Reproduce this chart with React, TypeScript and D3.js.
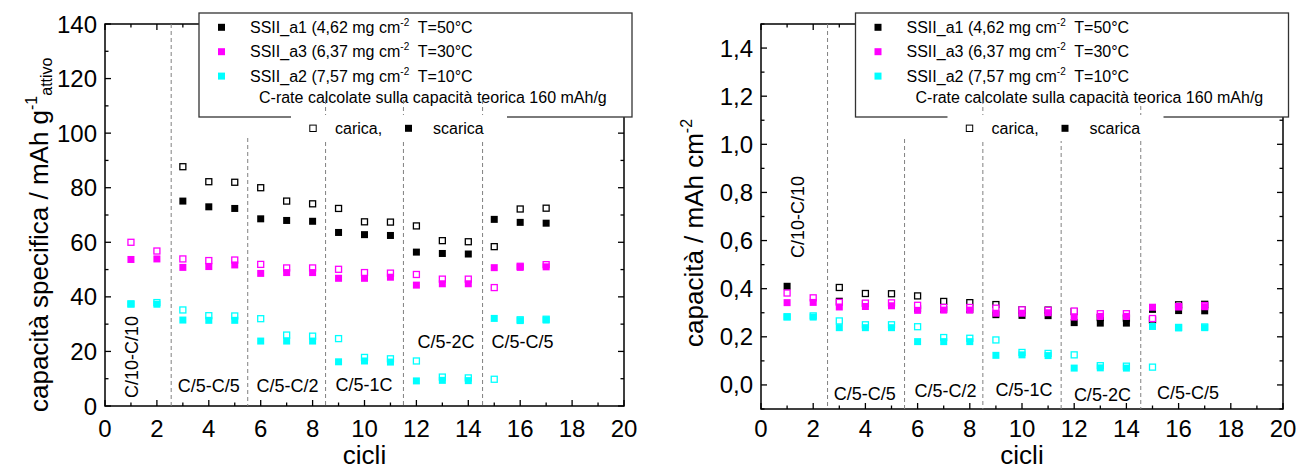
import React from "react";
import * as d3 from "d3";

const cycles = [1, 2, 3, 4, 5, 6, 7, 8, 9, 10, 11, 12, 13, 14, 15, 16, 17];

// Left panel: specific capacity (mAh/g active)
const a1DisL = [null, null, 75.1, 73.0, 72.4, 68.6, 68.0, 67.7, 63.6, 62.8, 62.5, 56.4, 55.9, 55.7, 68.4, 67.3, 67.0];
const a1ChaL = [null, null, 87.7, 82.2, 82.0, 80.0, 75.1, 74.1, 72.4, 67.5, 67.4, 66.0, 60.6, 60.2, 58.4, 72.2, 72.5];
const a3DisL = [53.7, 53.9, 50.8, 51.1, 51.7, 48.6, 48.9, 48.9, 46.8, 46.8, 47.2, 44.3, 44.8, 44.8, 50.7, 50.8, 51.0];
const a3ChaL = [60.0, 56.8, 53.9, 53.3, 53.5, 51.9, 50.6, 50.6, 50.1, 48.9, 48.7, 48.2, 46.5, 46.5, 43.4, 51.2, 51.8];
const a2DisL = [37.4, 37.3, 31.5, 31.4, 31.4, 23.8, 23.8, 23.8, 16.2, 16.5, 16.1, 9.2, 9.4, 9.3, 32.1, 31.3, 31.5];
const a2ChaL = [37.4, 37.9, 35.2, 33.1, 33.0, 32.0, 26.0, 25.6, 24.7, 17.8, 17.3, 16.5, 10.6, 10.3, 9.8, 31.6, 31.8];

// Right panel: areal capacity (mAh/cm2)
const a1DisR = [0.41, null, 0.348, 0.338, 0.335, 0.317, 0.314, 0.313, 0.292, 0.289, 0.288, 0.259, 0.257, 0.257, 0.314, 0.309, 0.308];
const a1ChaR = [null, null, 0.405, 0.38, 0.379, 0.37, 0.347, 0.342, 0.334, 0.312, 0.311, 0.305, 0.28, 0.278, 0.27, 0.333, 0.335];
const a3DisR = [0.342, 0.343, 0.324, 0.326, 0.329, 0.31, 0.311, 0.311, 0.298, 0.298, 0.3, 0.282, 0.285, 0.285, 0.323, 0.324, 0.325];
const a3ChaR = [0.382, 0.362, 0.343, 0.34, 0.341, 0.331, 0.322, 0.322, 0.319, 0.312, 0.31, 0.307, 0.296, 0.296, 0.276, 0.326, 0.33];
const a2DisR = [0.283, 0.282, 0.238, 0.238, 0.238, 0.18, 0.18, 0.18, 0.123, 0.125, 0.122, 0.07, 0.071, 0.07, 0.243, 0.237, 0.238];
const a2ChaR = [0.283, 0.287, 0.266, 0.25, 0.25, 0.242, 0.197, 0.194, 0.187, 0.135, 0.131, 0.125, 0.08, 0.078, 0.074, 0.239, 0.241];

const seriesNames = ["SSII_a1 (4,62 mg cm", "SSII_a3 (6,37 mg cm", "SSII_a2 (7,57 mg cm"];
const seriesTemps = ["T=50°C", "T=30°C", "T=10°C"];
const seriesColors = ["#000000", "#ff00ff", "#00ffff"];

const xTicks = [0, 2, 4, 6, 8, 10, 12, 14, 16, 18, 20];
const leftYTicks = [0, 20, 40, 60, 80, 100, 120, 140];
const rightYTicks = [0, 0.2, 0.4, 0.6, 0.8, 1.0, 1.2, 1.4];

const boundaries = [2.55, 5.5, 8.5, 11.5, 14.55];
const leftBoundaryTops = [null, 138, 100, 100, 100];
const rightBoundaryTops = [null, 139, 100, 125, 106];

const rateLabels = ["C/5-C/5", "C/5-C/2", "C/5-1C", "C/5-2C", "C/5-C/5"];
const leftRateX = [4.0, 7.03, 9.98, 13.14, 16.09];
const leftRateY = [392, 392, 391, 348, 348];
const rightRateX = [3.98, 7.07, 10.08, 13.08, 16.36];
const rightRateY = [400, 397, 396, 400.5, 399];

const FONT = "'Liberation Sans', Arial, Helvetica, sans-serif";

type PanelProps = {
  x0: number; x1: number; yTop: number; yBot: number;
  yDomain: [number, number]; yMajor: number[]; yMinorStep: number;
  fmt: (v: number) => string;
  dis: (number | null)[][]; cha: (number | null)[][];
  bTops: (number | null)[];
  rateX: number[]; rateY: number[];
  c10x: number; c10y: number;
  xLabelY: number; titleY: number;
  legendX: number;
};

function Panel(p: PanelProps) {
  const x = d3.scaleLinear().domain([0, 20]).range([p.x0, p.x1]);
  const y = d3.scaleLinear().domain(p.yDomain).range([p.yBot, p.yTop]);
  const xMinor = d3.range(0, 20.001, 1);
  const yMinor = d3.range(Math.ceil(p.yDomain[0] / p.yMinorStep) * p.yMinorStep, p.yDomain[1] + 1e-9, p.yMinorStep);
  const isMajorX = (v: number) => Math.abs(v / 2 - Math.round(v / 2)) < 1e-6;
  const isMajorY = (v: number) => p.yMajor.some((m) => Math.abs(m - v) < 1e-6);
  const MJ = 6, MN = 3.5;
  const ms = 7;
  const lx = p.legendX;
  return (
    <g>
      {[0, 1, 2].map((s) => (
        <g key={"s" + s}>
          {p.cha[s].map((v, i) =>
            v == null ? null : (
              <rect key={"o" + i} x={x(cycles[i]) - ms / 2 + 0.5} y={y(v) - ms / 2 + 0.5} width={ms - 1} height={ms - 1}
                fill="#fff" stroke={seriesColors[s]} strokeWidth={1.3} />
            )
          )}
          {p.dis[s].map((v, i) =>
            v == null ? null : (
              <rect key={"f" + i} x={x(cycles[i]) - ms / 2} y={y(v) - ms / 2} width={ms} height={ms} fill={seriesColors[s]} />
            )
          )}
        </g>
      ))}
      <rect x={p.x0} y={p.yTop} width={p.x1 - p.x0} height={p.yBot - p.yTop} fill="none" stroke="#000" strokeWidth={1.5} />
      {xMinor.map((v) => {
        const L = isMajorX(v) ? MJ : MN;
        return (
          <g key={"xt" + v}>
            <line x1={x(v)} x2={x(v)} y1={p.yBot} y2={p.yBot - L} stroke="#000" strokeWidth={1.3} />
            <line x1={x(v)} x2={x(v)} y1={p.yTop} y2={p.yTop + L} stroke="#000" strokeWidth={1.3} />
          </g>
        );
      })}
      {xTicks.map((v) => (
        <text key={"xl" + v} x={x(v)} y={p.xLabelY} textAnchor="middle" fontSize={24} fontFamily={FONT}>{v}</text>
      ))}
      {yMinor.map((v) => {
        const L = isMajorY(v) ? MJ : MN;
        return (
          <g key={"yt" + v}>
            <line x1={p.x0} x2={p.x0 + L} y1={y(v)} y2={y(v)} stroke="#000" strokeWidth={1.3} />
            <line x1={p.x1} x2={p.x1 - L} y1={y(v)} y2={y(v)} stroke="#000" strokeWidth={1.3} />
          </g>
        );
      })}
      {p.yMajor.map((v) => (
        <text key={"yl" + v} x={p.x0 - 8} y={y(v) + 8.5} textAnchor="end" fontSize={24} fontFamily={FONT}>{p.fmt(v)}</text>
      ))}
      <rect x={lx} y={13} width={433} height={104} fill="#fff" stroke="#333" strokeWidth={1.3} />
      {[0, 1, 2].map((s) => (
        <g key={"lg" + s}>
          <rect x={lx + 22.5 - 3.5} y={27.3 + s * 24.4 - 3.5} width={7} height={7} fill={seriesColors[s]} />
          <text x={lx + 51} y={33 + s * 24.4} fontSize={16} fontFamily={FONT} style={{ whiteSpace: "pre" }}>
            {seriesNames[s]}
            <tspan dy={-7} fontSize={10}>-2</tspan>
            <tspan dy={7}>{"  " + seriesTemps[s]}</tspan>
          </text>
        </g>
      ))}
      <text x={lx + 60} y={102.7} fontSize={16} fontFamily={FONT}>C-rate calcolate sulla capacità teorica 160 mAh/g</text>
      {boundaries.map((b, i) => (
        <line key={"b" + i} x1={x(b)} x2={x(b)} y1={p.bTops[i] == null ? p.yTop : (p.bTops[i] as number)} y2={p.yBot}
          stroke="#808080" strokeWidth={1} strokeDasharray="4,3" />
      ))}
      <rect x={lx + 92} y={115} width={216} height={26} fill="#fff" />
      <rect x={lx + 114 - 3.2} y={128.3 - 3.2} width={6.4} height={6.4} fill="#fff" stroke="#000" strokeWidth={1} />
      <text x={lx + 136} y={134} fontSize={16} fontFamily={FONT}>carica,</text>
      <rect x={lx + 209.5 - 3.5} y={128.3 - 3.5} width={7} height={7} fill="#000" />
      <text x={lx + 234} y={134} fontSize={16} fontFamily={FONT}>scarica</text>
      {rateLabels.map((t, i) => (
        <text key={"r" + i} x={x(p.rateX[i])} y={p.rateY[i]} textAnchor="middle" fontSize={18} fontFamily={FONT}>{t}</text>
      ))}
      <text transform={`translate(${p.c10x},${p.c10y}) rotate(-90)`} textAnchor="middle" fontSize={18} fontFamily={FONT}>C/10-C/10</text>
      <text x={(p.x0 + p.x1) / 2} y={p.titleY} textAnchor="middle" fontSize={26} fontFamily={FONT}>cicli</text>
    </g>
  );
}

export default function App() {
  const fmtL = (v: number) => String(v);
  const fmtR = (v: number) => d3.format(".1f")(v).replace(".", ",");
  return (
    <div style={{ position: "absolute", left: 0, top: 0 }}>
      <svg width={1298} height={470} style={{ display: "block", background: "#fff" }}>
        <Panel x0={105} x1={624} yTop={24} yBot={406} yDomain={[0, 140]} yMajor={leftYTicks} yMinorStep={10}
          fmt={fmtL} dis={[a1DisL, a3DisL, a2DisL]} cha={[a1ChaL, a3ChaL, a2ChaL]} bTops={leftBoundaryTops}
          rateX={leftRateX} rateY={leftRateY} c10x={137.5} c10y={357} xLabelY={437} titleY={464} legendX={199} />
        <Panel x0={761} x1={1283} yTop={24} yBot={409} yDomain={[-0.1, 1.5]} yMajor={rightYTicks} yMinorStep={0.1}
          fmt={fmtR} dis={[a1DisR, a3DisR, a2DisR]} cha={[a1ChaR, a3ChaR, a2ChaR]} bTops={rightBoundaryTops}
          rateX={rightRateX} rateY={rightRateY} c10x={804} c10y={217} xLabelY={437} titleY={464} legendX={855.5} />
        <text transform="translate(48,412) rotate(-90)" fontSize={26} fontFamily={FONT}>
          capacità specifica / mAh g
          <tspan dy={-11} fontSize={16}>-1</tspan>
          <tspan dy={15} fontSize={16}>attivo</tspan>
        </text>
        <text transform="translate(703,347) rotate(-90)" fontSize={26} fontFamily={FONT}>
          capacità / mAh cm
          <tspan dy={-11} fontSize={16}>-2</tspan>
        </text>
      </svg>
    </div>
  );
}
